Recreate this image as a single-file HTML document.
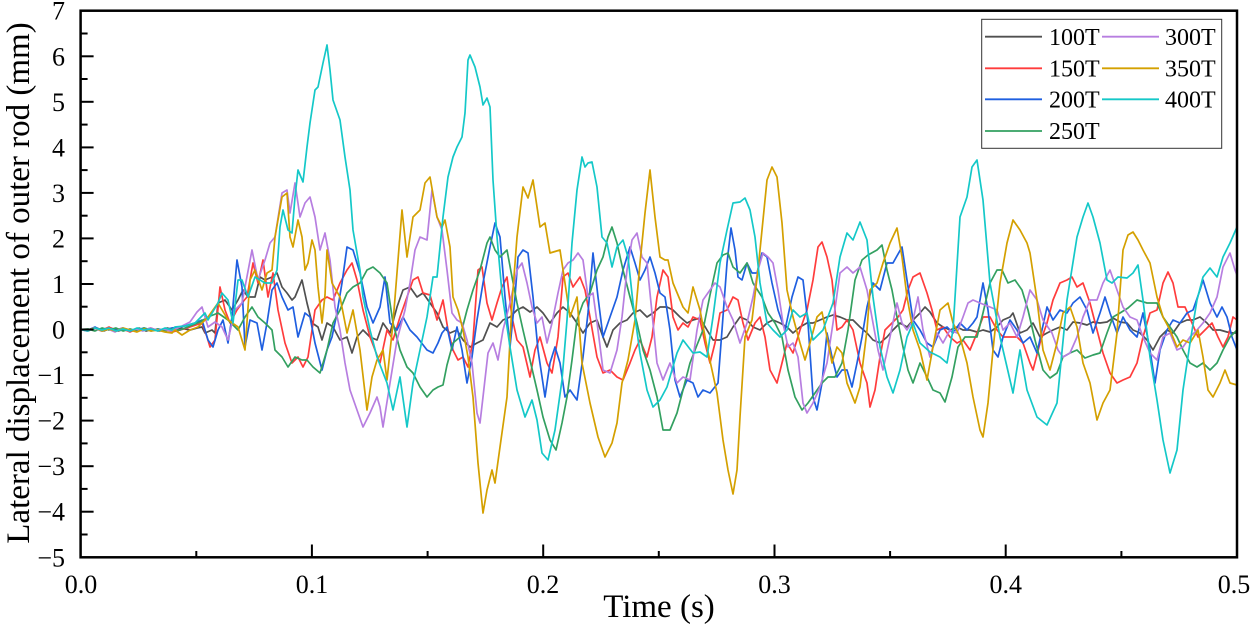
<!DOCTYPE html>
<html>
<head>
<meta charset="utf-8">
<style>
  html,body{margin:0;padding:0;background:#fff;}
  svg{display:block;}
  text{font-family:"Liberation Serif","Times New Roman",serif;fill:#000;}
</style>
</head>
<body>
<svg width="1253" height="626" viewBox="0 0 1253 626" xmlns="http://www.w3.org/2000/svg">
<rect width="1253" height="626" fill="#fff"/>

<g fill="none" stroke-width="1.7" stroke-linejoin="round" stroke-linecap="round">
<!-- 100T -->
<polyline stroke="#505050" points="80.6,329.5 90,330 97,328 104,331 111,328 118,331 125,329 132,331 139,328 146,331 153,329 160,331 167,328 174,330 180,328 190,330 197,328 202,327 205,333 212,330 215,333 218,303 225,300 232,310 238,300 243,290 248,297 255,297 260,277 265,280 272,277 277,273 282,287 287,293 292,300 295,297 302,280 307,303 312,323 318,327 322,340 327,323 333,327 340,340 347,337 352,353 357,337 363,330 370,337 377,340 383,323 390,333 397,307 403,290 410,287 417,297 423,293 430,303 437,313 443,327 450,333 457,330 463,340 470,347 477,343 483,340 490,323 497,327 503,320 510,317 517,310 523,307 530,312 537,307 543,313 550,323 557,313 563,307 570,313 577,323 583,333 590,323 597,320 603,337 607,347 613,330 620,323 627,320 633,313 640,310 647,317 653,313 660,307 667,307 673,310 680,317 687,323 693,320 700,318 707,330 713,340 720,340 727,337 733,327 740,317 747,320 753,327 760,330 767,323 773,320 780,323 787,327 793,333 800,327 807,323 813,323 820,320 827,317 833,315 840,317 847,320 853,320 860,327 867,333 873,340 880,343 887,337 893,330 900,323 907,327 913,320 920,313 925,307 930,312 937,323 943,327 950,330 957,327 963,330 970,330 977,332 983,330 990,332 997,327 1003,320 1010,317 1013,313 1020,333 1027,330 1033,323 1040,337 1047,333 1053,330 1060,327 1067,330 1073,322 1080,323 1087,325 1093,322 1100,323 1107,322 1113,318 1120,322 1127,323 1133,330 1140,333 1147,340 1153,350 1160,337 1167,330 1173,333 1180,323 1187,320 1193,320 1200,317 1207,323 1213,330 1220,330 1227,332 1233,333 1237,333"/>
<!-- 150T -->
<polyline stroke="#ff3c3c" points="80.6,329.5 88,331 95,328 102,330 109,327 116,331 123,329 130,332 137,329 144,330 151,328 158,331 165,329 172,332 180,330 190,327 202,323 207,337 210,347 215,340 220,287 225,310 230,323 237,310 242,303 247,297 253,263 258,283 263,260 268,297 273,273 278,310 285,343 292,363 298,357 303,367 308,357 315,310 322,300 327,297 333,300 340,283 347,270 352,263 357,280 363,310 370,337 375,350 380,363 387,330 393,340 400,317 407,297 413,280 418,277 423,293 430,295 437,320 443,300 448,330 453,350 458,360 463,357 468,367 473,340 478,270 482,267 487,303 492,320 497,303 502,287 507,277 512,317 517,340 523,347 530,377 535,350 540,337 547,363 552,373 558,337 563,277 568,273 573,287 580,277 585,290 590,317 597,357 603,373 610,370 617,377 623,380 630,363 635,350 640,340 647,357 652,337 657,297 663,270 668,277 673,317 678,330 683,323 688,327 693,317 700,320 705,343 710,363 715,343 720,313 727,310 733,297 738,300 743,323 748,340 755,323 760,317 765,337 770,370 777,383 782,363 787,343 793,353 800,330 807,310 813,280 818,247 822,242 827,257 832,280 837,330 842,327 847,320 853,330 860,363 867,383 870,407 875,390 880,357 885,330 892,323 898,317 903,310 908,290 913,277 920,273 927,293 932,310 937,330 943,327 950,337 957,343 963,340 970,350 977,333 983,317 990,317 997,330 1003,337 1010,337 1017,337 1023,343 1030,363 1033,370 1040,343 1047,323 1053,300 1060,283 1067,280 1072,277 1077,287 1083,283 1090,303 1097,330 1103,353 1110,373 1117,383 1123,380 1130,377 1137,363 1143,337 1150,313 1157,310 1163,283 1168,272 1173,283 1178,307 1185,307 1192,323 1198,337 1205,330 1212,323 1218,337 1223,347 1228,337 1233,317 1237,320"/>
<!-- 200T -->
<polyline stroke="#1f5fe0" points="80.6,329.5 88,330 95,327 102,331 109,329 116,330 123,328 130,331 137,330 144,328 151,331 158,329 165,330 172,328 180,327 188,325 195,323 202,320 208,340 213,347 218,330 223,320 228,343 232,317 237,260 242,287 245,347 250,320 257,323 262,350 267,323 272,290 277,283 282,297 288,310 293,307 298,337 305,313 310,317 315,343 322,370 327,350 332,337 337,313 342,283 347,247 353,250 360,273 367,307 373,323 380,307 385,277 390,323 397,330 403,317 410,330 417,337 427,350 433,353 438,343 442,333 447,327 452,350 457,327 462,350 467,383 472,357 477,320 483,283 490,247 495,223 500,237 505,297 510,347 515,297 518,257 523,250 528,253 533,297 538,350 545,397 550,363 555,347 560,363 565,397 570,390 577,400 583,357 588,313 593,253 598,297 603,337 610,317 617,297 623,270 630,247 635,263 640,280 645,270 650,257 655,273 660,293 665,297 670,330 675,380 680,397 687,380 693,383 698,397 703,390 710,393 718,383 722,330 727,263 731,228 735,250 738,277 742,280 747,263 752,273 757,273 762,253 767,257 772,283 778,310 785,330 792,297 798,277 803,280 808,323 813,397 817,410 822,383 827,333 832,357 837,377 842,370 847,370 852,387 857,363 862,337 867,307 873,283 880,290 887,263 893,263 902,247 907,280 913,320 920,330 927,343 933,347 940,330 947,327 953,333 960,323 967,330 973,323 977,317 983,283 988,310 993,350 998,357 1003,337 1010,320 1017,330 1023,343 1030,337 1037,353 1042,330 1047,307 1053,320 1060,310 1067,313 1073,303 1080,297 1087,310 1093,333 1100,313 1105,297 1110,313 1117,333 1123,317 1130,330 1137,337 1143,313 1150,350 1155,383 1160,350 1167,330 1173,320 1180,323 1187,313 1193,310 1200,290 1203,280 1210,303 1217,317 1222,307 1227,317 1232,337 1237,350"/>
<!-- 250T -->
<polyline stroke="#33a060" points="80.6,329.5 88,329 95,331 102,328 109,330 116,328 123,331 130,329 137,331 144,328 151,330 158,329 165,331 172,329 180,330 190,326 200,322 208,317 218,313 228,320 238,330 245,317 252,307 258,317 265,323 272,330 275,350 282,357 288,367 295,357 302,360 307,360 313,367 320,373 327,350 333,323 340,310 347,293 353,287 360,283 367,270 373,267 380,273 387,283 393,323 400,350 407,367 413,373 420,387 427,397 433,390 438,387 443,385 447,365 453,343 460,337 467,310 473,290 480,270 487,243 490,237 495,250 500,257 507,250 512,277 517,303 523,330 530,360 537,390 543,417 550,440 556,450 562,423 567,397 572,360 577,320 583,303 590,293 597,270 603,257 608,237 612,227 617,243 623,270 630,297 637,323 643,350 650,370 657,397 663,430 670,430 677,413 683,390 690,363 697,345 703,330 710,295 717,263 723,255 728,253 733,267 740,273 747,263 753,283 762,297 768,313 775,323 782,337 788,370 795,397 802,410 808,403 815,393 822,383 828,377 835,377 842,363 848,330 855,280 862,260 868,255 877,250 882,245 887,270 892,290 897,317 903,347 908,370 913,383 920,363 927,377 933,390 940,393 945,402 952,377 958,347 965,337 972,337 977,337 983,313 990,283 997,270 1002,270 1008,283 1015,280 1022,290 1028,310 1035,340 1043,370 1050,378 1057,373 1063,357 1070,353 1077,350 1085,358 1093,355 1100,353 1107,333 1113,317 1120,313 1128,308 1137,300 1147,303 1157,303 1163,317 1170,327 1177,337 1183,350 1190,363 1197,367 1203,363 1210,370 1217,363 1223,350 1230,337 1237,330"/>
<!-- 300T -->
<polyline stroke="#b77ee0" points="80.6,329.5 87,331 94,328 101,331 108,329 115,332 122,328 129,331 136,329 143,331 150,328 157,330 164,329 171,331 180,327 190,322 197,312 202,307 208,327 215,322 222,327 228,340 235,310 242,303 252,250 258,280 265,260 270,243 275,237 282,193 287,190 290,213 295,183 300,217 305,203 310,197 315,217 320,250 325,233 330,260 335,307 340,330 345,363 350,390 357,410 363,427 370,413 377,397 380,407 383,427 390,383 397,340 405,310 410,283 415,250 420,237 427,240 432,190 437,217 442,230 447,270 452,313 457,320 462,323 467,340 472,363 477,413 480,423 483,397 488,353 493,343 498,360 503,330 510,303 517,270 522,263 527,283 532,307 537,323 542,317 547,343 552,323 558,293 563,270 568,263 573,260 578,253 583,260 588,297 593,293 598,330 603,370 610,373 617,350 622,317 627,270 632,240 637,233 642,257 647,263 652,313 657,363 663,380 670,363 677,383 683,377 690,380 697,330 703,300 710,290 715,283 720,287 727,307 733,320 740,343 747,323 753,297 758,270 763,253 768,257 773,263 778,290 783,323 788,347 793,343 798,357 803,403 807,413 813,403 820,387 827,363 833,323 840,273 847,267 853,273 860,267 867,290 873,323 878,350 883,370 890,337 897,303 902,323 907,330 913,320 918,297 923,330 930,357 937,333 943,343 950,330 957,333 963,317 968,303 973,300 980,303 990,307 997,310 1003,330 1010,323 1017,337 1023,317 1030,290 1037,300 1043,320 1052,333 1058,350 1063,357 1070,353 1077,337 1083,317 1090,300 1097,300 1103,283 1110,270 1117,290 1123,307 1130,317 1137,320 1143,337 1150,353 1157,360 1163,337 1170,333 1177,350 1183,347 1190,337 1197,330 1203,323 1210,313 1217,297 1223,267 1230,253 1235,270 1237,275"/>
<!-- 350T -->
<polyline stroke="#d4a000" points="80.6,329.5 88,330 95,328 102,331 109,329 116,331 123,328 130,330 137,332 144,329 151,331 158,330 165,332 172,333 175,330 182,335 190,330 198,327 208,317 218,303 228,320 238,327 245,350 250,280 255,270 262,290 267,273 272,270 275,237 282,197 287,193 290,237 293,247 298,220 302,237 305,270 308,263 312,240 315,250 318,287 322,323 325,295 327,250 332,283 340,297 347,333 353,310 360,350 367,410 372,377 377,360 383,350 387,380 393,323 402,210 407,257 413,217 420,210 425,183 430,177 437,217 442,227 445,220 450,247 453,297 458,310 463,330 468,357 473,397 478,463 483,513 487,490 492,470 495,483 500,447 507,397 512,303 517,237 523,187 528,198 533,180 540,227 545,223 550,253 560,250 565,283 570,317 577,297 582,363 590,403 598,437 605,457 612,443 617,423 622,383 628,360 635,320 640,263 645,213 650,170 655,217 660,257 665,260 668,260 673,283 683,307 688,313 693,287 700,310 707,347 717,393 723,440 728,470 733,494 737,470 740,417 745,337 752,320 758,270 762,230 767,180 772,167 777,177 782,223 787,290 793,317 800,343 805,360 810,343 817,317 822,312 827,337 832,363 837,347 842,353 847,383 855,403 860,387 867,330 870,290 877,283 883,263 890,243 897,228 902,257 907,297 913,330 920,350 927,380 933,347 940,310 948,303 953,323 960,337 967,363 973,397 980,430 983,437 988,403 993,350 1000,283 1007,243 1013,220 1020,230 1027,243 1030,253 1037,300 1043,350 1050,370 1057,343 1063,313 1070,307 1077,327 1083,363 1090,383 1097,420 1103,403 1110,390 1117,333 1123,250 1128,235 1133,232 1138,240 1143,250 1150,263 1157,297 1163,317 1170,330 1177,347 1183,340 1190,343 1198,330 1203,357 1208,390 1213,397 1220,383 1225,370 1230,383 1237,385"/>
<!-- 400T -->
<polyline stroke="#14c8c8" points="80.6,329.5 88,331 95,328 102,330 109,328 116,331 123,329 130,331 137,328 144,330 151,329 158,331 165,328 172,330 175,327 185,326 195,323 205,313 208,320 218,303 222,293 228,300 233,323 238,280 242,280 248,297 255,277 265,283 272,283 277,270 280,227 283,210 288,230 292,233 295,197 298,170 303,182 307,147 310,123 315,90 318,87 323,63 327,45 330,70 333,100 340,120 345,157 350,190 353,230 357,253 360,270 363,297 370,330 377,357 387,383 393,410 400,377 407,427 413,383 420,350 427,317 433,277 437,277 443,217 448,177 453,157 457,147 462,137 465,113 468,60 470,55 475,67 480,87 483,105 487,98 490,107 493,180 497,237 502,293 510,347 517,390 525,417 532,400 537,420 542,453 548,460 555,430 562,380 567,320 572,243 577,190 582,157 585,167 588,163 592,162 597,187 602,237 607,243 612,267 617,247 623,240 628,257 633,303 640,353 647,390 653,407 660,400 667,387 677,353 683,340 693,353 700,352 707,357 713,317 720,263 727,230 733,203 740,202 745,198 750,210 755,237 760,283 767,323 773,330 780,337 787,330 793,310 800,317 807,313 813,340 823,330 833,303 840,257 847,233 853,240 860,222 867,240 873,297 880,347 887,377 893,393 900,370 907,337 913,323 920,343 930,352 940,357 947,363 953,330 960,217 967,197 972,167 977,160 983,200 990,283 1000,337 1007,367 1013,393 1020,350 1027,390 1037,417 1047,425 1057,403 1067,300 1077,237 1083,217 1088,203 1093,217 1100,243 1107,280 1112,283 1118,277 1127,278 1133,273 1138,265 1143,300 1150,357 1157,400 1163,440 1170,473 1177,450 1183,390 1190,343 1197,300 1203,277 1210,268 1217,277 1223,257 1230,243 1237,227"/>
</g>

<!-- axes frame -->
<rect x="80.6" y="10.7" width="1156.4" height="546.6" fill="none" stroke="#000" stroke-width="2.5"/>

<!-- y ticks -->
<g stroke="#000" stroke-width="2">
<line x1="80.6" y1="56.3" x2="93.6" y2="56.3"/>
<line x1="80.6" y1="101.8" x2="93.6" y2="101.8"/>
<line x1="80.6" y1="147.4" x2="93.6" y2="147.4"/>
<line x1="80.6" y1="192.9" x2="93.6" y2="192.9"/>
<line x1="80.6" y1="238.4" x2="93.6" y2="238.4"/>
<line x1="80.6" y1="284.0" x2="93.6" y2="284.0"/>
<line x1="80.6" y1="329.5" x2="93.6" y2="329.5"/>
<line x1="80.6" y1="375.1" x2="93.6" y2="375.1"/>
<line x1="80.6" y1="420.6" x2="93.6" y2="420.6"/>
<line x1="80.6" y1="466.2" x2="93.6" y2="466.2"/>
<line x1="80.6" y1="511.7" x2="93.6" y2="511.7"/>
<line x1="80.6" y1="33.5" x2="87.6" y2="33.5"/>
<line x1="80.6" y1="79.0" x2="87.6" y2="79.0"/>
<line x1="80.6" y1="124.6" x2="87.6" y2="124.6"/>
<line x1="80.6" y1="170.1" x2="87.6" y2="170.1"/>
<line x1="80.6" y1="215.7" x2="87.6" y2="215.7"/>
<line x1="80.6" y1="261.2" x2="87.6" y2="261.2"/>
<line x1="80.6" y1="306.7" x2="87.6" y2="306.7"/>
<line x1="80.6" y1="352.3" x2="87.6" y2="352.3"/>
<line x1="80.6" y1="397.8" x2="87.6" y2="397.8"/>
<line x1="80.6" y1="443.4" x2="87.6" y2="443.4"/>
<line x1="80.6" y1="488.9" x2="87.6" y2="488.9"/>
<line x1="80.6" y1="534.5" x2="87.6" y2="534.5"/>
<!-- x ticks -->
<line x1="311.9" y1="557.3" x2="311.9" y2="544.5"/>
<line x1="543.2" y1="557.3" x2="543.2" y2="544.5"/>
<line x1="774.5" y1="557.3" x2="774.5" y2="544.5"/>
<line x1="1005.7" y1="557.3" x2="1005.7" y2="544.5"/>
<line x1="196.3" y1="557.3" x2="196.3" y2="551"/>
<line x1="427.6" y1="557.3" x2="427.6" y2="551"/>
<line x1="658.8" y1="557.3" x2="658.8" y2="551"/>
<line x1="890.1" y1="557.3" x2="890.1" y2="551"/>
<line x1="1121.4" y1="557.3" x2="1121.4" y2="551"/>
</g>

<!-- y tick labels -->
<g font-size="26" text-anchor="end">
<text x="65" y="19.7">7</text>
<text x="65" y="65.3">6</text>
<text x="65" y="110.8">5</text>
<text x="65" y="156.4">4</text>
<text x="65" y="201.9">3</text>
<text x="65" y="247.4">2</text>
<text x="65" y="293">1</text>
<text x="65" y="338.5">0</text>
<text x="65" y="384.1">−1</text>
<text x="65" y="429.6">−2</text>
<text x="65" y="475.2">−3</text>
<text x="65" y="520.7">−4</text>
<text x="65" y="566.3">−5</text>
</g>

<!-- x tick labels -->
<g font-size="26" text-anchor="middle">
<text x="81" y="593">0.0</text>
<text x="312" y="593">0.1</text>
<text x="543" y="593">0.2</text>
<text x="774.5" y="593">0.3</text>
<text x="1005.7" y="593">0.4</text>
<text x="1234" y="593">0.5</text>
</g>

<!-- axis titles -->
<text x="659" y="617" font-size="33" text-anchor="middle">Time (s)</text>
<text transform="translate(29,283) rotate(-90)" font-size="33" text-anchor="middle">Lateral displacement of outer rod (mm)</text>

<!-- legend -->
<rect x="981.7" y="19.3" width="240" height="129" fill="#fff" stroke="#333" stroke-width="1"/>
<g stroke-width="1.8">
<line x1="985" y1="36.7" x2="1042" y2="36.7" stroke="#505050"/>
<line x1="985" y1="68.3" x2="1042" y2="68.3" stroke="#ff3c3c"/>
<line x1="985" y1="99.3" x2="1042" y2="99.3" stroke="#1f5fe0"/>
<line x1="985" y1="131" x2="1042" y2="131" stroke="#33a060"/>
<line x1="1102" y1="36.7" x2="1159" y2="36.7" stroke="#b77ee0"/>
<line x1="1102" y1="68.3" x2="1159" y2="68.3" stroke="#d4a000"/>
<line x1="1102" y1="99.3" x2="1159" y2="99.3" stroke="#14c8c8"/>
</g>
<g font-size="24">
<text x="1049" y="45">100T</text>
<text x="1049" y="76.5">150T</text>
<text x="1049" y="107.7">200T</text>
<text x="1049" y="139">250T</text>
<text x="1165" y="45">300T</text>
<text x="1165" y="76.5">350T</text>
<text x="1165" y="107.7">400T</text>
</g>
</svg>
</body>
</html>
